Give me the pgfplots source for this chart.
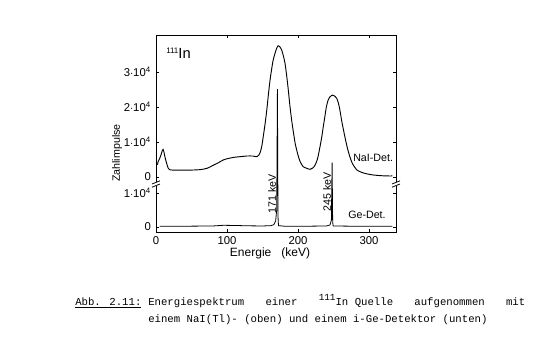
\documentclass[border=0pt]{standalone}
\usepackage{pgfplots}
\pgfplotsset{compat=1.18}
\usepackage{pgfplotstable}
\usepackage{fontspec}
\setmainfont{Liberation Sans}
\newfontfamily\monofont{Liberation Mono}

% NaI(Tl) spectrum: energy (keV), counts
\pgfplotstableread{
E c
2 3500
3 4400
5 5200
7 6300
9 7600
10 7900
11 7300
13 5400
15 3900
17 2600
19 2100
22 2000
30 1950
45 1950
62 2100
72 2500
81 3400
88 4100
95 4900
102 5300
109 5600
118 5800
128 6000
136 6000
142 5800
145 6300
147 7200
149 8800
151 11500
153.5 15000
156 19100
158 23000
160.6 27700
163 31000
165 33400
168 35600
170 36800
172 37500
174 37300
177 36300
179.5 34500
181.7 32500
184 29000
186.3 24900
188.5 20500
191 16300
193.5 12800
196 9600
199.5 6600
203 4400
207 3000
212 2500
217 2200
221 2600
224 3400
227.5 5200
231 8700
233.5 11500
235.6 14400
238 17500
240 20100
242.5 22000
245 22900
248 23400
251 23200
254.5 22500
257 21000
259 19100
262 15500
266 11500
269.5 8300
273 5800
277 3700
283 2000
290 1300
297 900
305 600
315.5 400
325 300
333 300
}\naidata

% i-Ge spectrum: energy (keV), counts
\pgfplotstableread{
E c
5 200
20 250
50 250
80 300
95 500
110 450
130 350
150 300
162 400
166 700
168.5 1800
170 5000
171 40500
171.8 3000
172.5 400
180 250
220 250
240 300
245 600
247 2000
248 18900
248.8 1500
249.5 300
270 250
300 250
333 250
}\gedata

\begin{document}
\begin{tikzpicture}
\path[use as bounding box] (0,0) rectangle (417pt,268.5pt);
\begin{axis}[
  at={(117pt,94.5pt)}, anchor=south west,
  scale only axis, width=180pt, height=147.75pt,
  xmin=0, xmax=338, ymin=-0.145, ymax=5.565,
  xtick={0,100,200,300},
  ytick={0,0.986,1.449,2.464,3.478,4.493},
  yticklabels={0,1$\cdot$10\textsuperscript{4},0,1$\cdot$10\textsuperscript{4},2$\cdot$10\textsuperscript{4},3$\cdot$10\textsuperscript{4}},
  /pgf/number format/assume math mode=true,
  tick align=inside, major tick length=2.2pt,
  xtick pos=both, ytick pos=both,
  axis line style={line width=0.7pt},
  tick style={black, line width=0.6pt},
  tick label style={font=\fontsize{8.5}{10}\selectfont},
  xticklabel style={yshift=0pt},
  yticklabel style={xshift=-0.3pt},
  clip=false,
]
\addplot[black, line width=0.7pt, smooth, tension=0.4]
  table[x=E, y expr=1.449+\thisrow{c}*1.0145e-4] {\naidata};
\addplot[black, line width=0.6pt]
  table[x=E, y expr=\thisrow{c}*0.986e-4] {\gedata};
% axis break marks
\fill[white] ([xshift=-3pt,yshift=-1.6pt]axis cs:0,1.246) rectangle ([xshift=3pt,yshift=1.6pt]axis cs:0,1.246);
\draw[line width=0.6pt] ([xshift=-3pt,yshift=-2.4pt]axis cs:0,1.246) -- ++(6pt,2.4pt);
\draw[line width=0.6pt] ([xshift=-3pt,yshift=0pt]axis cs:0,1.246) -- ++(6pt,2.4pt);
\fill[white] ([xshift=-3pt,yshift=-1.6pt]axis cs:338,1.246) rectangle ([xshift=3pt,yshift=1.6pt]axis cs:338,1.246);
\draw[line width=0.6pt] ([xshift=-3pt,yshift=-2.4pt]axis cs:338,1.246) -- ++(6pt,2.4pt);
\draw[line width=0.6pt] ([xshift=-3pt,yshift=0pt]axis cs:338,1.246) -- ++(6pt,2.4pt);
\end{axis}
\begin{scope}[x=0.75pt,y=0.75pt]
\node[anchor=west, font=\fontsize{11}{13}\selectfont, inner sep=0pt] at (166,305)
  {\raisebox{3.5pt}{\fontsize{6}{7}\selectfont 111}In};
\node[anchor=west, font=\fontsize{8}{9}\selectfont, inner sep=0pt] at (353,200) {NaI-Det.};
\node[anchor=west, font=\fontsize{8}{9}\selectfont, inner sep=0pt] at (348,143) {Ge-Det.};
\node[rotate=90, font=\fontsize{8}{9}\selectfont, inner sep=0pt] at (272,164) {171 keV};
\node[rotate=90, font=\fontsize{8}{9}\selectfont, inner sep=0pt] at (327,166) {245 keV};
\node[rotate=90, font=\fontsize{8}{9}\selectfont, inner sep=0pt] at (117,205) {Zahlimpulse};
\node[font=\fontsize{9}{11}\selectfont, inner sep=0pt] at (270,105) {Energie\ \ \ (keV)};
% caption
\node[anchor=base west, font=\monofont\fontsize{8}{10}\selectfont, inner sep=0pt] at (75,53)
  {\underline{Abb. 2.11:}};
\node[anchor=base west, font=\monofont\fontsize{8}{10}\selectfont, inner sep=0pt] at (148,53)
  {\hbox to 282.75pt{Energiespektrum\hfill einer\hfill \raisebox{3.5pt}{\fontsize{7}{8}\selectfont 111}In Quelle\hfill aufgenommen\hfill mit}};
\node[anchor=base west, font=\monofont\fontsize{8}{10}\selectfont, inner sep=0pt] at (148,36)
  {einem NaI(Tl)- (oben) und einem i-Ge-Detektor (unten)};
\end{scope}
\end{tikzpicture}
\end{document}
